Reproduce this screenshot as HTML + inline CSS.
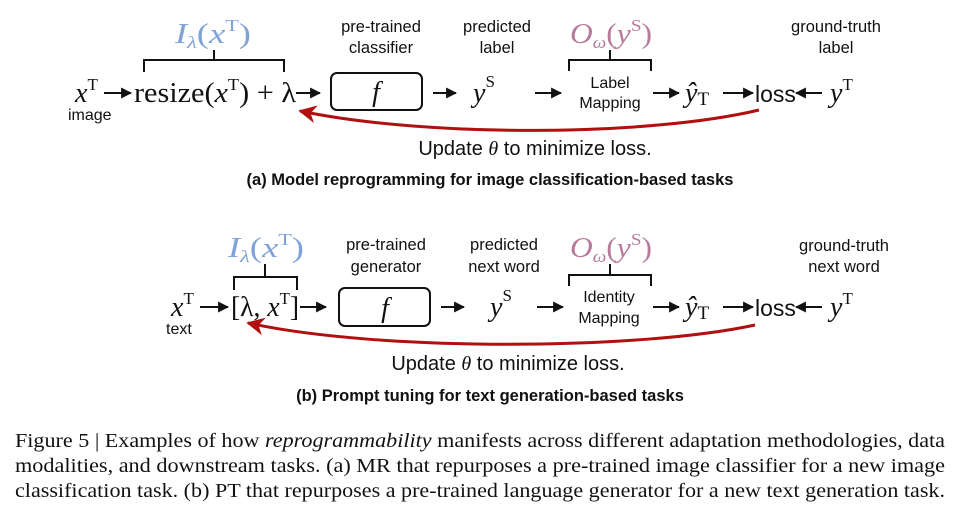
<!DOCTYPE html>
<html><head><meta charset="utf-8"><style>
html,body{margin:0;padding:0;background:#fff;width:960px;height:514px;overflow:hidden}
svg{display:block}
.s{font-family:"Liberation Sans",sans-serif;fill:#111}
.m{font-family:"Liberation Serif",serif;fill:#111}
.i{font-style:italic}
</style></head><body>
<svg width="960" height="514" viewBox="0 0 960 514" xmlns="http://www.w3.org/2000/svg">
<defs>
<marker id="ah" viewBox="0 0 10 10" refX="9" refY="5" markerWidth="11" markerHeight="11" markerUnits="userSpaceOnUse" orient="auto"><path d="M0,0 L10,5 L0,10 Z" fill="#111"/></marker>
<marker id="rh" viewBox="0 0 10 10" refX="9" refY="5" markerWidth="18" markerHeight="18" markerUnits="userSpaceOnUse" orient="auto"><path d="M0,0 L10,5 L0,10 L3,5 Z" fill="#b01010"/></marker>
</defs>
<g stroke="#111" stroke-width="2" fill="none">
<path d="M214,50 V60 M144,72 V60 H284 V72"/>
<path d="M610,50 V60 M569,71 V60 H651 V71"/>
<rect x="331" y="73" width="91" height="37" rx="6"/>
<line x1="104" y1="93" x2="131" y2="93" marker-end="url(#ah)"/>
<line x1="296" y1="93" x2="320" y2="93" marker-end="url(#ah)"/>
<line x1="433" y1="93" x2="456" y2="93" marker-end="url(#ah)"/>
<line x1="535" y1="93" x2="561" y2="93" marker-end="url(#ah)"/>
<line x1="653" y1="93" x2="679" y2="93" marker-end="url(#ah)"/>
<line x1="723" y1="93" x2="753" y2="93" marker-end="url(#ah)"/>
<line x1="822" y1="93" x2="796" y2="93" marker-end="url(#ah)"/>
<path d="M265,264 V277 M234,290 V277 H297 V290"/>
<path d="M610,264 V275 M569,286 V275 H651 V286"/>
<rect x="339" y="288" width="91" height="38" rx="6"/>
<line x1="200" y1="307" x2="228" y2="307" marker-end="url(#ah)"/>
<line x1="300" y1="307" x2="326" y2="307" marker-end="url(#ah)"/>
<line x1="441" y1="307" x2="464" y2="307" marker-end="url(#ah)"/>
<line x1="537" y1="307" x2="563" y2="307" marker-end="url(#ah)"/>
<line x1="653" y1="307" x2="679" y2="307" marker-end="url(#ah)"/>
<line x1="723" y1="307" x2="753" y2="307" marker-end="url(#ah)"/>
<line x1="822" y1="307" x2="796" y2="307" marker-end="url(#ah)"/>
</g>
<g stroke="#b01010" stroke-width="3" fill="none">
<path d="M759,110 C650,136 430,138 300,111" marker-end="url(#rh)"/>
<path d="M755,325 C640,350 380,352 248,323" marker-end="url(#rh)"/>
</g>
<!-- panel a -->
<text x="175" y="43" class="m i" font-size="28" style="fill:#7fa3d8" textLength="76" lengthAdjust="spacingAndGlyphs">I<tspan font-size="17" dy="5">λ</tspan><tspan dy="-5" font-style="normal">(</tspan>x<tspan font-style="normal" font-size="17" dy="-12">T</tspan><tspan font-style="normal" dy="12">)</tspan></text>
<text x="75" y="102" class="m i" font-size="28">x<tspan font-style="normal" font-size="17" dy="-12">T</tspan></text>
<text x="68" y="120" class="s" font-size="16">image</text>
<text x="134" y="102" class="m" font-size="28" textLength="162" lengthAdjust="spacingAndGlyphs">resize(<tspan font-style="italic">x</tspan><tspan font-size="17" dy="-12">T</tspan><tspan dy="12">) + λ</tspan></text>
<text x="376" y="101" text-anchor="middle" class="m i" font-size="28">f</text>
<text x="381" y="32" text-anchor="middle" class="s" font-size="16.5">pre-trained</text>
<text x="381" y="53" text-anchor="middle" class="s" font-size="16.5">classifier</text>
<text x="497" y="32" text-anchor="middle" class="s" font-size="16.5">predicted</text>
<text x="497" y="53" text-anchor="middle" class="s" font-size="16.5">label</text>
<text x="473" y="102" class="m i" font-size="28">y<tspan font-style="normal" font-size="17" dy="-15">S</tspan></text>
<text x="570" y="43" class="m i" font-size="28" style="fill:#b87a9c" textLength="82" lengthAdjust="spacingAndGlyphs">O<tspan font-size="17" dy="5">ω</tspan><tspan dy="-5" font-style="normal">(</tspan>y<tspan font-style="normal" font-size="17" dy="-12">S</tspan><tspan font-style="normal" dy="12">)</tspan></text>
<text x="610" y="88" text-anchor="middle" class="s" font-size="16">Label</text>
<text x="610" y="108" text-anchor="middle" class="s" font-size="16">Mapping</text>
<text x="685" y="102" class="m i" font-size="28">ŷ<tspan font-style="normal" font-size="19" dy="3">T</tspan></text>
<text x="755" y="102" class="s" font-size="23">loss</text>
<text x="830" y="102" class="m i" font-size="28">y<tspan font-style="normal" font-size="17" dy="-12">T</tspan></text>
<text x="836" y="32" text-anchor="middle" class="s" font-size="16.5">ground-truth</text>
<text x="836" y="53" text-anchor="middle" class="s" font-size="16.5">label</text>
<text x="535" y="155" text-anchor="middle" class="s" font-size="20">Update <tspan class="m i">θ</tspan> to minimize loss.</text>
<text x="490" y="185" text-anchor="middle" class="s" font-size="16.5" font-weight="bold">(a) Model reprogramming for image classification-based tasks</text>
<!-- panel b -->
<text x="228" y="257" class="m i" font-size="28" style="fill:#7fa3d8" textLength="76" lengthAdjust="spacingAndGlyphs">I<tspan font-size="17" dy="5">λ</tspan><tspan dy="-5" font-style="normal">(</tspan>x<tspan font-style="normal" font-size="17" dy="-12">T</tspan><tspan font-style="normal" dy="12">)</tspan></text>
<text x="171" y="316" class="m i" font-size="28">x<tspan font-style="normal" font-size="17" dy="-12">T</tspan></text>
<text x="166" y="334" class="s" font-size="16">text</text>
<text x="231" y="316" class="m" font-size="28" textLength="68" lengthAdjust="spacingAndGlyphs">[λ, <tspan font-style="italic">x</tspan><tspan font-size="17" dy="-12">T</tspan><tspan dy="12">]</tspan></text>
<text x="385" y="317" text-anchor="middle" class="m i" font-size="28">f</text>
<text x="386" y="250" text-anchor="middle" class="s" font-size="16.5">pre-trained</text>
<text x="386" y="272" text-anchor="middle" class="s" font-size="16.5">generator</text>
<text x="504" y="250" text-anchor="middle" class="s" font-size="16.5">predicted</text>
<text x="504" y="272" text-anchor="middle" class="s" font-size="16.5">next word</text>
<text x="490" y="316" class="m i" font-size="28">y<tspan font-style="normal" font-size="17" dy="-15">S</tspan></text>
<text x="570" y="257" class="m i" font-size="28" style="fill:#b87a9c" textLength="82" lengthAdjust="spacingAndGlyphs">O<tspan font-size="17" dy="5">ω</tspan><tspan dy="-5" font-style="normal">(</tspan>y<tspan font-style="normal" font-size="17" dy="-12">S</tspan><tspan font-style="normal" dy="12">)</tspan></text>
<text x="609" y="302" text-anchor="middle" class="s" font-size="16">Identity</text>
<text x="609" y="323" text-anchor="middle" class="s" font-size="16">Mapping</text>
<text x="685" y="316" class="m i" font-size="28">ŷ<tspan font-style="normal" font-size="19" dy="3">T</tspan></text>
<text x="755" y="316" class="s" font-size="23">loss</text>
<text x="830" y="316" class="m i" font-size="28">y<tspan font-style="normal" font-size="17" dy="-12">T</tspan></text>
<text x="844" y="251" text-anchor="middle" class="s" font-size="16.5">ground-truth</text>
<text x="844" y="272" text-anchor="middle" class="s" font-size="16.5">next word</text>
<text x="508" y="370" text-anchor="middle" class="s" font-size="20">Update <tspan class="m i">θ</tspan> to minimize loss.</text>
<text x="490" y="401" text-anchor="middle" class="s" font-size="16.5" font-weight="bold">(b) Prompt tuning for text generation-based tasks</text>
<!-- caption -->
<text x="15" y="447" class="m" font-size="20" textLength="930" lengthAdjust="spacingAndGlyphs">Figure 5 | Examples of how <tspan font-style="italic">reprogrammability</tspan> manifests across different adaptation methodologies, data</text>
<text x="15" y="472" class="m" font-size="20" textLength="930" lengthAdjust="spacingAndGlyphs">modalities, and downstream tasks. (a) MR that repurposes a pre-trained image classifier for a new image</text>
<text x="15" y="497" class="m" font-size="20" textLength="930" lengthAdjust="spacingAndGlyphs">classification task. (b) PT that repurposes a pre-trained language generator for a new text generation task.</text>
</svg>
</body></html>
